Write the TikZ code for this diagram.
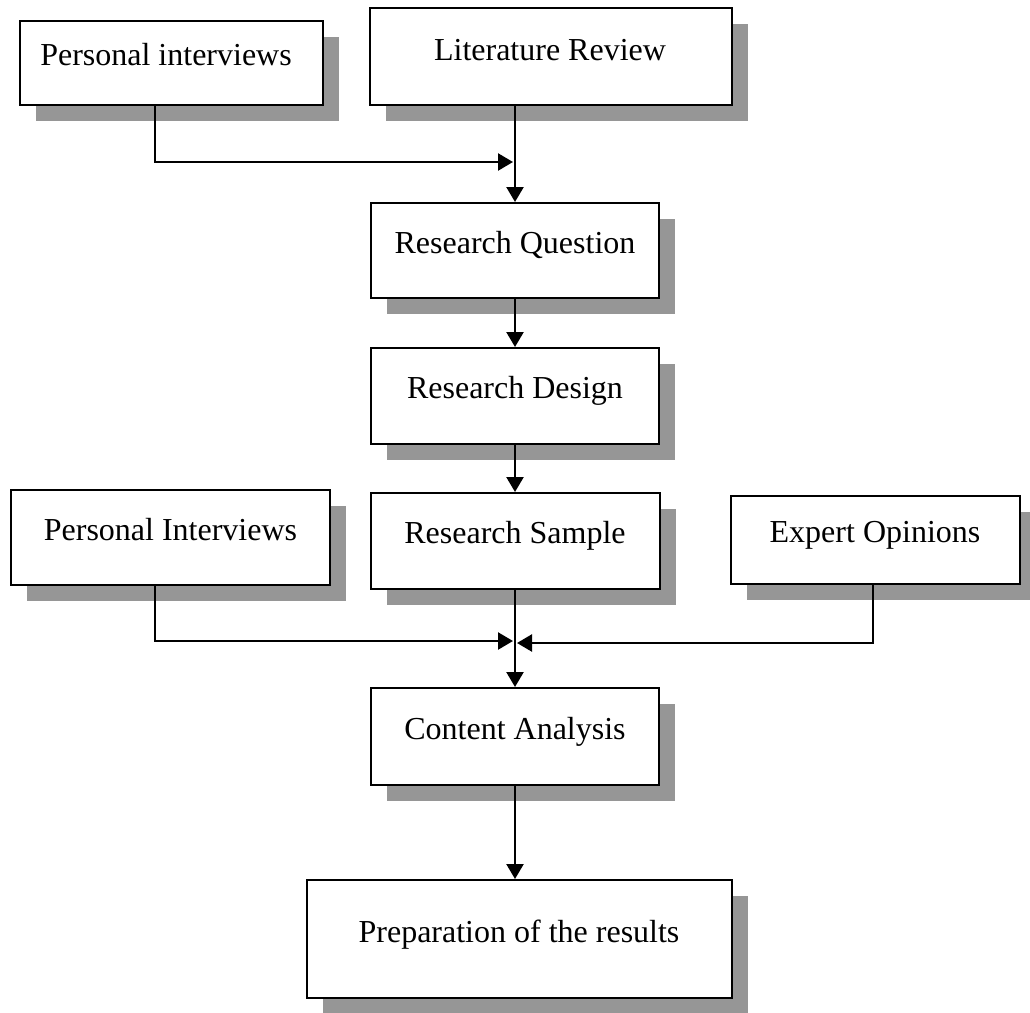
\documentclass[tikz,border=0pt]{standalone}
\usepackage{fontspec}
\setmainfont{Liberation Serif}
\usetikzlibrary{arrows.meta,shadows}
\definecolor{shadowgray}{RGB}{150,150,150}

\begin{document}
\begin{tikzpicture}[x=1pt,y=-1pt,
  box/.style={draw=black, line width=2pt, fill=white, rectangle, inner sep=0pt,
    general shadow={fill=shadowgray, shadow xshift=16pt, shadow yshift=-16pt}},
  lbl/.style={anchor=base, font=\fontsize{32}{38}\selectfont, inner sep=0pt},
  link/.style={line width=2.4pt},
  tip/.style={-{Triangle[length=15pt,width=17pt]}}]

\useasboundingbox (0,0) rectangle (1030,1012);

% boxes
\node[box, minimum width=303pt, minimum height=84pt]  (pi1) at (171.5,63)  {};
\node[box, minimum width=362pt, minimum height=97pt]  (lr)  at (551,56.5)  {};
\node[box, minimum width=288pt, minimum height=95pt]  (rq)  at (515,250.5) {};
\node[box, minimum width=288pt, minimum height=96pt]  (rd)  at (515,396)   {};
\node[box, minimum width=319pt, minimum height=95pt]  (pi2) at (170.5,537.5) {};
\node[box, minimum width=289pt, minimum height=96pt]  (rs)  at (515.5,541) {};
\node[box, minimum width=289pt, minimum height=88pt]  (eo)  at (875.5,540) {};
\node[box, minimum width=288pt, minimum height=97pt]  (ca)  at (515,736.5) {};
\node[box, minimum width=425pt, minimum height=118pt] (pr)  at (519.5,939) {};

% labels
\node[lbl] (pi1t) at (166,65)  {Personal interviews};
\node[lbl] (lrt)  at (550,60)  {Literature Review};
\node[lbl] (rqt)  at (515,253) {Research Question};
\node[lbl] (rdt)  at (515,398) {Research Design};
\node[lbl] (pi2t) at (170.5,540) {Personal Interviews};
\node[lbl] (rst)  at (515,543) {Research Sample};
\node[lbl] (eot)  at (875,542) {Expert Opinions};
\node[lbl] (cat)  at (515,739) {Content Analysis};
\node[lbl] (prt)  at (519,942) {Preparation of the results};

% junction points on the main axis
\coordinate (j1) at (513,162);
\coordinate (j2) at (513,641);
\coordinate (j3) at (517,643);

% connectors
\draw[link,tip] ([xshift=-16.5pt]pi1.south) |- (j1);
\draw[link,tip] (lr.south -| rq.north) -- (rq.north);
\draw[link,tip] (rq.south) -- (rd.north);
\draw[link,tip] (rd.south) -- (rd.south |- rs.north);
\draw[link,tip] (rs.south -| ca.north) -- (ca.north);
\draw[link,tip] ([xshift=-15.5pt]pi2.south) |- (j2);
\draw[link,tip] ([xshift=-2.5pt]eo.south) |- (j3);
\draw[link,tip] (ca.south) -- (ca.south |- pr.north);
\end{tikzpicture}
\end{document}
